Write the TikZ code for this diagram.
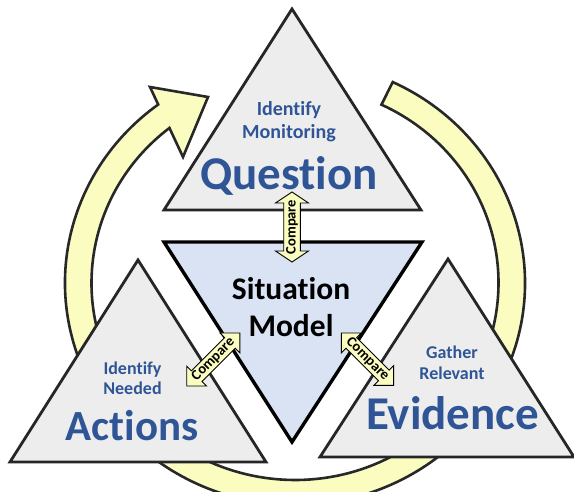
\documentclass[tikz,border=0pt]{standalone}
\usepackage{fontspec}
\setmainfont{Carlito}[Ligatures=NoCommon]
\usetikzlibrary{calc}
\definecolor{ringfill}{RGB}{250,252,192}
\definecolor{ringline}{RGB}{40,40,40}
\definecolor{trifill}{RGB}{237,237,237}
\definecolor{triline}{RGB}{38,38,38}
\definecolor{sitfill}{RGB}{218,227,243}
\definecolor{bluetext}{RGB}{47,85,151}
\begin{document}
\begin{tikzpicture}[x=1pt,y=1pt,
  ringstyle/.style={fill=ringfill,draw=ringline,line width=2.6pt,line join=miter},
  tristyle/.style={fill=trifill,draw=triline,line width=2.8pt,line join=miter},
  sitstyle/.style={fill=sitfill,draw=black,line width=3.4pt,line join=miter},
  smalltxt/.style={text=bluetext,anchor=base,inner sep=0pt,font=\fontsize{20}{22}\selectfont\bfseries},
  tinytxt/.style={text=bluetext,anchor=base,inner sep=0pt,font=\fontsize{18}{20}\selectfont\bfseries},
  bigtxt/.style={text=bluetext,anchor=base,inner sep=0pt,font=\fontsize{47}{50}\selectfont\bfseries},
  sittxt/.style={text=black,anchor=base,inner sep=0pt,font=\fontsize{31.5}{34}\selectfont\bfseries},
  cmp/.style={draw=black,line width=0.9pt,fill=ringfill,line join=miter},
  cmptxt/.style={text=black,inner sep=0pt,font=\fontsize{14.5}{15}\selectfont\bfseries}
]
\useasboundingbox (0,0) rectangle (574,492);
\clip (0,0) rectangle (574,492);
\coordinate (c) at (295,209);
% cycle arrow
\path[ringstyle] ($(c)+(64.85:230pt and 222pt)$)
  arc[start angle=64.85,end angle=-233.5,x radius=230pt,y radius=222pt]
  -- (150,405) -- (208,395) -- (183,335)
  -- ($(c)+(-231.9:203.5pt and 197pt)$)
  arc[start angle=-231.9,end angle=64.85,x radius=203.5pt,y radius=197pt]
  -- cycle;
% triangles
\coordinate (qA) at (292,483); \coordinate (qL) at (164,282); \coordinate (qR) at (421,282);
\coordinate (sL) at (164,250); \coordinate (sR) at (422,250); \coordinate (sB) at (292,50);
\coordinate (aA) at (138,232); \coordinate (aL) at (10,30); \coordinate (aR) at (266,30);
\coordinate (eA) at (448,233); \coordinate (eL) at (320,35); \coordinate (eR) at (574,35);
\path[tristyle] (qA) -- (qL) -- (qR) -- cycle;
\path[sitstyle] (sL) -- (sR) -- (sB) -- cycle;
\path[tristyle] (aA) -- (aL) -- (aR) -- cycle;
\path[tristyle] (eA) -- (eL) -- (eR) -- cycle;
% texts
\node[smalltxt] (q1) at (289,376) {Identify};
\node[smalltxt] (q2) at (289,353.7) {Monitoring};
\node[bigtxt] (q3) at (289,302) {Question};
\node[sittxt] (s1) at (291,192.7) {Situation};
\node[sittxt] (s2) at (291,155.3) {Model};
\node[tinytxt] (a1) at (132.5,117) {Identify};
\node[tinytxt] (a2) at (132.5,97) {Needed};
\node[bigtxt,font=\fontsize{43}{46}\selectfont\bfseries] (a3) at (132,51.3) {Actions};
\node[tinytxt] (e1) at (452,133.7) {Gather};
\node[tinytxt] (e2) at (452,112) {Relevant};
\node[bigtxt] (e3) at (452.5,62.7) {Evidence};
% compare arrows
\begin{scope}[shift={(292,265)},rotate=90]
  \path[cmp] (-35,0) -- (-24,16.5) -- (-24,8.3) -- (24,8.3) -- (24,16.5) -- (35,0)
    -- (24,-16.5) -- (24,-8.3) -- (-24,-8.3) -- (-24,-16.5) -- cycle;
  \node[cmptxt,rotate=90] (cq) at (0,0) {Compare};
\end{scope}
\begin{scope}[shift={(213.3,132.5)},rotate=45]
  \path[cmp] (-37.5,0) -- (-23.5,14) -- (-23.5,7.5) -- (23.5,7.5) -- (23.5,14) -- (37.5,0)
    -- (23.5,-14) -- (23.5,-7.5) -- (-23.5,-7.5) -- (-23.5,-14) -- cycle;
  \node[cmptxt,rotate=45] (ca) at (0,0) {Compare};
\end{scope}
\begin{scope}[shift={(367.5,132.8)},rotate=-45]
  \path[cmp] (-37,0) -- (-23,14) -- (-23,7.5) -- (23,7.5) -- (23,14) -- (37,0)
    -- (23,-14) -- (23,-7.5) -- (-23,-7.5) -- (-23,-14) -- cycle;
  \node[cmptxt,rotate=-45] (ce) at (0,0) {Compare};
\end{scope}
\end{tikzpicture}
\end{document}
